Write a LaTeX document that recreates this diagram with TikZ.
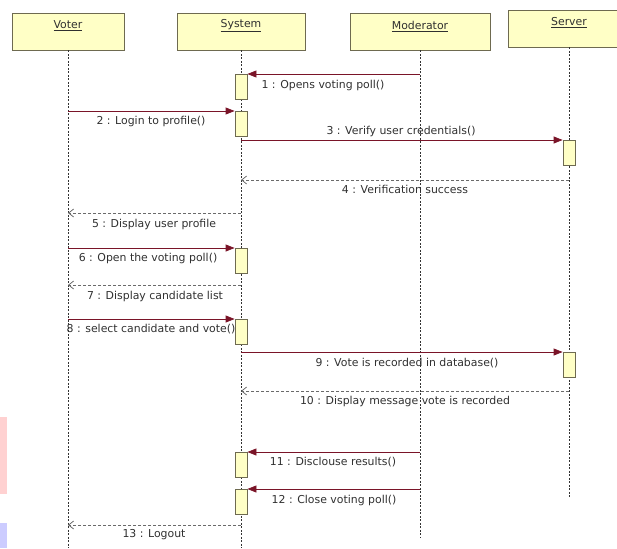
\documentclass[tikz,border=0pt]{standalone}
\usepackage{fontspec}
\setmainfont{DejaVu Sans}
\usepackage{tikz}
\usetikzlibrary{positioning,arrows.meta}
\definecolor{boxfill}{HTML}{FFFFC6}
\definecolor{boxline}{HTML}{6E6A50}
\definecolor{msgred}{HTML}{7A1428}
\definecolor{retgray}{HTML}{6A6A6A}
\definecolor{txtgray}{HTML}{303030}
\tikzset{
  head/.style={draw=boxline,fill=boxfill,line width=0.8pt,minimum height=37pt,inner sep=0pt},
  headtext/.style={text=txtgray,font=\fontsize{10.9}{12}\selectfont,inner sep=0pt},
  act/.style={draw=boxline,fill=boxfill,line width=0.8pt,minimum width=12pt,minimum height=25pt,inner sep=0pt,anchor=north},
  life/.style={draw=black!80,line width=0.7pt,dash pattern=on 2pt off 1.5pt},
  msg/.style={draw=msgred,line width=0.8pt,-{Triangle[length=9pt,width=7pt]}},
  ret/.style={draw=retgray,line width=0.8pt,dash pattern=on 3pt off 2pt,-{Straight Barb[length=5pt,width=8pt]}},
  lbl/.style={text=txtgray,font=\fontsize{10.9}{12}\selectfont,inner sep=0pt}
}
\begin{document}
\begin{tikzpicture}[x=1pt,y=-1pt]
        \useasboundingbox (0,0) rectangle (617,548);
        \fill[red!18] (0,417) rectangle (7,494);
        \fill[blue!20] (0,523) rectangle (7,548);
        \node[head,minimum width=112pt] (voter) at (68,31.5) {};
        \node[head,minimum width=128pt] (system) at (241,31.5) {};
        \node[head,minimum width=140pt] (moderator) at (420,31.5) {};
        \node[head,minimum width=122pt] (server) at (569,28.5) {};
        \node[headtext] (voterl) at (68,26) {\underline{Voter}};
        \node[headtext] (systeml) at (241,26) {\underline{System}};
        \node[headtext] (moderatorl) at (420,26.5) {\underline{Moderator}};
        \node[headtext] (serverl) at (569,23) {\underline{Server}};
        \coordinate (vend) at (68,548);
        \coordinate (send) at (241,548);
        \coordinate (mend) at (420,537);
        \coordinate (rend) at (569,498);
        \draw[life] (voter.south) -- (vend);
        \draw[life] (system.south) -- (send);
        \draw[life] (moderator.south) -- (mend);
        \draw[life] (server.south) -- (rend);
        \node[act] (a1) at (241,74) {};
        \node[act] (a2) at (241,111) {};
        \node[act] (b1) at (569,140) {};
        \node[act] (a3) at (241,248) {};
        \node[act] (a4) at (241,319) {};
        \node[act] (b2) at (569,352) {};
        \node[act] (a5) at (241,452) {};
        \node[act] (a6) at (241,489) {};
        \coordinate (m1) at (420,74);
        \coordinate (v2) at (68,111);
        \coordinate (s3) at (241,140);
        \coordinate (r4) at (569,180);
        \coordinate (s4) at (241,180);
        \coordinate (s5) at (241,213);
        \coordinate (v5) at (68,213);
        \coordinate (v6) at (68,248);
        \coordinate (s7) at (241,285);
        \coordinate (v7) at (68,285);
        \coordinate (v8) at (68,319);
        \coordinate (s9) at (241,352);
        \coordinate (r10) at (569,391);
        \coordinate (s10) at (241,391);
        \coordinate (m11) at (420,452);
        \coordinate (m12) at (420,489);
        \coordinate (s13) at (241,525);
        \coordinate (v13) at (68,525);
        \draw[msg] (m1) -- (a1.north east);
        \draw[msg] (v2) -- (a2.north west);
        \draw[msg] (s3) -- (b1.north west);
        \draw[ret] (r4) -- (s4);
        \draw[ret] (s5) -- (v5);
        \draw[msg] (v6) -- (a3.north west);
        \draw[ret] (s7) -- (v7);
        \draw[msg] (v8) -- (a4.north west);
        \draw[msg] (s9) -- (b2.north west);
        \draw[ret] (r10) -- (s10);
        \draw[msg] (m11) -- (a5.north east);
        \draw[msg] (m12) -- (a6.north east);
        \draw[ret] (s13) -- (v13);
        \node[lbl] (l1) at (323,85) {1 : Opens voting poll()};
        \node[lbl] (l2) at (151,121) {2 : Login to profile()};
        \node[lbl] (l3) at (401,131) {3 : Verify user credentials()};
        \node[lbl] (l4) at (405,189) {4 : Verification success};
        \node[lbl] (l5) at (154,224) {5 : Display user profile};
        \node[lbl] (l6) at (148,258) {6 : Open the voting poll()};
        \node[lbl] (l7) at (155,296) {7 : Display candidate list};
        \node[lbl] (l8) at (151,329) {8 : select candidate and vote()};
        \node[lbl] (l9) at (407,363) {9 : Vote is recorded in database()};
        \node[lbl] (l10) at (405,401) {10 : Display message vote is recorded};
        \node[lbl] (l11) at (333,462) {11 : Disclouse results()};
        \node[lbl] (l12) at (334,500) {12 : Close voting poll()};
        \node[lbl] (l13) at (154,535) {13 : Logout};
      \end{tikzpicture}
\end{document}
